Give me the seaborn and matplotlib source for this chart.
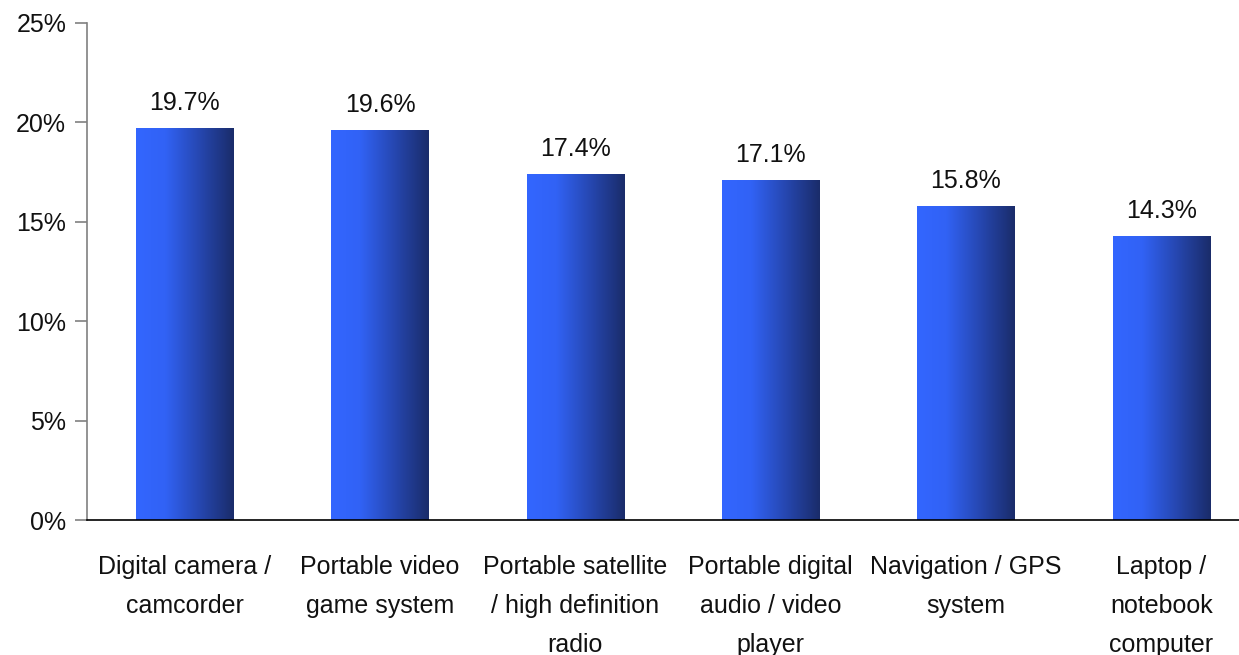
import numpy as np
import pandas as pd
import matplotlib
matplotlib.use("Agg")
import matplotlib.pyplot as plt
from matplotlib.colors import LinearSegmentedColormap
from matplotlib.ticker import FuncFormatter, FixedLocator
import seaborn as sns

categories = [
    "Digital camera /\ncamcorder",
    "Portable video\ngame system",
    "Portable satellite\n/ high definition\nradio",
    "Portable digital\naudio / video\nplayer",
    "Navigation / GPS\nsystem",
    "Laptop /\nnotebook\ncomputer",
]
shares = [19.7, 19.6, 17.4, 17.1, 15.8, 14.3]
y_ticks = [0, 5, 10, 15, 20, 25]

sns.set_theme(style="white")
plt.rcParams["font.family"] = ["Liberation Sans Narrow", "Liberation Sans", "DejaVu Sans"]

df = pd.DataFrame({"category": categories, "share": shares})

W, H = 1239, 655
fig = plt.figure(figsize=(W / 100, H / 100), dpi=100)
left, right, bottom, top = 87, 1259, 520, 23
ax = fig.add_axes([left / W, (H - bottom) / H, (right - left) / W, (bottom - top) / H])

sns.barplot(data=df, x="category", y="share", ax=ax, width=0.5,
            color="#3366ff", edgecolor="none", linewidth=0)

# horizontal gradient fill for each bar
grad_cmap = LinearSegmentedColormap.from_list(
    "bar_grad", [(0.0, "#3366ff"), (0.3, "#3162f5"), (0.65, "#2647b0"), (1.0, "#1a2c6a")])
gradient = np.linspace(0, 1, 256).reshape(1, -1)
for patch in ax.patches:
    x0, y0 = patch.get_x(), patch.get_y()
    w, h = patch.get_width(), patch.get_height()
    patch.set_facecolor("none")
    img = ax.imshow(gradient, extent=[x0, x0 + w, y0, y0 + h], aspect="auto",
                    cmap=grad_cmap, zorder=2, interpolation="bicubic")
    img.set_clip_path(patch)
    ax.text(x0 + w / 2, y0 + h + 0.65, f"{h:.1f}%", ha="center", va="bottom",
            fontsize=18, color="#111111")

ax.set_xlim(-0.5, len(categories) - 0.5)
ax.set_ylim(0, 25)
ax.set_yticks(y_ticks)
ax.yaxis.set_major_formatter(FuncFormatter(lambda v, p: f"{v:.0f}%"))
ax.set_xlabel("")
ax.set_ylabel("")

# category labels centred under bars, tick marks between categories
ax.set_xticks(range(len(categories)))
ax.set_xticklabels(categories, fontsize=18, linespacing=1.8, color="#111111")
ax.tick_params(axis="x", which="major", length=0, pad=25)
ax.xaxis.set_minor_locator(FixedLocator(np.arange(-0.5, len(categories), 1.0)))
ax.tick_params(axis="x", which="minor", length=9, width=1.2, color="#808080", direction="out")
ax.tick_params(axis="y", length=9, width=1.2, color="#808080", direction="out",
               labelsize=18, labelcolor="#111111", pad=6, left=True)

for side in ["top", "right"]:
    ax.spines[side].set_visible(False)
ax.spines["left"].set_color("#808080")
ax.spines["left"].set_linewidth(1.2)
ax.spines["bottom"].set_color("#000000")
ax.spines["bottom"].set_linewidth(1.2)
ax.spines["bottom"].set_zorder(3)

fig.savefig("out.png", dpi=100, facecolor="white")
